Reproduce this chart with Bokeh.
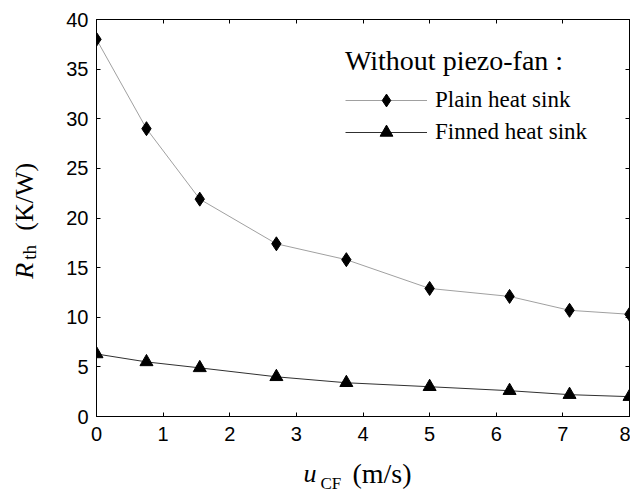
from bokeh.plotting import figure
from bokeh.layouts import column, row
from bokeh.models import (LinearAxis, FixedTicker, Label, Legend, LegendItem,
                          Range1d)
from bokeh.core.properties import value
from bokeh.embed import file_html
from bokeh.resources import INLINE

# ---- data ----
u_cf = [0.0, 0.75, 1.55, 2.7, 3.75, 5.0, 6.2, 7.1, 8.0]
r_plain = [38.0, 29.0, 21.9, 17.4, 15.8, 12.9, 12.1, 10.7, 10.3]
r_finned = [6.3, 5.5, 4.9, 4.0, 3.4, 3.0, 2.6, 2.2, 2.0]
x_ticks = [0, 1, 2, 3, 4, 5, 6, 7, 8]
y_ticks = [0, 5, 10, 15, 20, 25, 30, 35, 40]
legend_title = "Without piezo-fan :"
series_names = ["Plain heat sink", "Finned heat sink"]

TICK_FONT = "Liberation Sans"
SERIF = "Liberation Serif"

# ---- layout sizes ----
YLAB_W = 56
MAIN_W, MAIN_H = 630 - YLAB_W, 450
XLAB_H = 42

p = figure(width=MAIN_W, height=MAIN_H,
           x_range=Range1d(0, 8), y_range=Range1d(0, 40),
           output_backend="svg", toolbar_location=None,
           min_border_left=96 - YLAB_W, min_border_right=1,
           min_border_top=19, min_border_bottom=34)

p.grid.visible = False
p.outline_line_color = "black"
p.outline_line_width = 1
p.background_fill_color = "white"
p.border_fill_color = "white"


def style_axis(ax, ticks, show_labels, standoff):
    ax.ticker = FixedTicker(ticks=ticks)
    ax.minor_tick_line_color = None
    ax.major_tick_in = 4
    ax.major_tick_out = 0
    ax.major_tick_line_color = "black"
    ax.axis_line_color = "black"
    ax.axis_line_width = 1
    if show_labels:
        ax.major_label_text_font = TICK_FONT
        ax.major_label_text_font_size = "20px"
        ax.major_label_text_color = "black"
        ax.major_label_standoff = standoff
    else:
        ax.major_label_text_color = None
        ax.major_label_text_font_size = "1px"
        ax.major_label_standoff = 0


style_axis(p.xaxis[0], x_ticks, True, 10)
style_axis(p.yaxis[0], y_ticks, True, 8)

top_ax = LinearAxis()
style_axis(top_ax, x_ticks, False, 0)
p.add_layout(top_ax, "above")
right_ax = LinearAxis()
style_axis(right_ax, y_ticks, False, 0)
p.add_layout(right_ax, "right")

# ---- series ----
l1 = p.line(u_cf, r_plain, line_color="#a0a0a0", line_width=1)
s1 = p.scatter(u_cf, r_plain, marker="diamond", size=14,
               fill_color="black", line_color="black")
l2 = p.line(u_cf, r_finned, line_color="#303030", line_width=1)
s2 = p.scatter(u_cf, r_finned, marker="triangle", size=13,
               fill_color="black", line_color="black")

legend = Legend(items=[LegendItem(label=series_names[0], renderers=[l1, s1]),
                       LegendItem(label=series_names[1], renderers=[l2, s2])],
                location=(249, 268),
                title=legend_title,
                title_text_font=SERIF, title_text_font_size="28px",
                title_text_font_style="normal", title_text_color="black",
                title_standoff=7,
                label_text_font=SERIF, label_text_font_size="23px",
                label_text_color="black",
                glyph_width=82, glyph_height=32, label_standoff=8,
                spacing=0, padding=0, margin=0,
                border_line_color=None, background_fill_alpha=0)
p.add_layout(legend)


# ---- axis titles with subscripts, drawn in small label panels ----
def label_panel(w, h):
    f = figure(width=w, height=h, x_range=Range1d(0, w), y_range=Range1d(0, h),
               output_backend="svg", toolbar_location=None,
               x_axis_location=None, y_axis_location=None,
               min_border=0)
    f.grid.visible = False
    f.outline_line_color = None
    f.background_fill_color = "white"
    f.border_fill_color = "white"
    return f


def lab(f, x, y, text, size, style="normal", angle=0.0):
    # x, y: centre of the text box, in panel pixels (y up)
    kw = dict(x=x, y=y, text=text, angle=angle,
              text_font_size=size, text_font_style=style,
              text_color="black", text_align="center",
              text_baseline="middle")
    try:
        lbl = Label(text_font=value(SERIF), **kw)
    except Exception:
        lbl = Label(text_font=SERIF, **kw)
    f.add_layout(lbl)


# y label: R_th (K/W), rotated (panel spans picture y 0..450)
ROT = 1.5707963
yl = label_panel(YLAB_W, MAIN_H)
lab(yl, 24.2, MAIN_H - 285, "R", "26px", "italic", ROT)
lab(yl, 28.6, MAIN_H - 264, "th", "19px", "normal", ROT)
lab(yl, 23.5, MAIN_H - 201, "(K/W)", "26px", "normal", ROT)

# x label: u_CF (m/s) (panel spans picture y 450..492)
xl = label_panel(YLAB_W + MAIN_W, XLAB_H)
lab(xl, 309.5, 492 - 473.2, "u", "26px", "italic")
lab(xl, 330.4, 492 - 482.5, "CF", "17px", "normal")
lab(xl, 381.5, 492 - 472.5, "(m/s)", "28px", "normal")

layout = column(row(yl, p), xl)
open("out.html", "w").write(file_html(layout, INLINE))
